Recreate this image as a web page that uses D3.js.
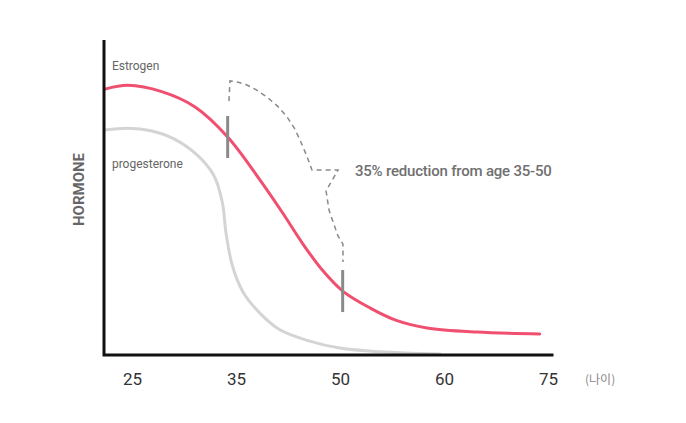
<!DOCTYPE html>
<html>
<head>
<meta charset="utf-8">
<script src="https://cdn.jsdelivr.net/npm/d3@7"></script>
<style>
  html, body { margin: 0; padding: 0; background: #fff; }
  svg { display: block; font-family: Roboto, "Noto Sans", sans-serif; }
</style>
</head>
<body>
<svg id="chart" width="686" height="423"></svg>
<script>
// ---- data ----
const tickLabels = ["25", "35", "50", "60", "75"];
const axisUnit = "(나이)";
const yTitle = "HORMONE";

const estrogenAge   = [19, 22.0, 26.4, 30.7, 35.0, 39.2, 42.2, 44.8, 47.4, 50.0, 53.6, 57.0, 61.0, 67.5, 75.7];
const estrogenValue = [84.4, 85.6, 83.6, 78.8, 69.2, 55.6, 45.0, 35.3, 26.8, 20.3, 14.9, 11.0, 8.6, 7.3, 6.7];

const progAge   = [19, 22.0, 25.0, 28.0, 31.0, 33.2, 34.3, 34.8, 35.6, 37.0, 39.2, 41.8, 45.7, 49.6, 54.9, 62.7];
const progValue = [71.4, 72.0, 71.2, 68.6, 63.5, 57.0, 48.5, 38.5, 28.5, 20.0, 13.3, 8.0, 4.4, 2.2, 1.0, 0.3];

const markerAges = [35, 50];

const bracketAge   = [35.17, 35.30, 36.4, 37.52, 38.8, 40.13, 41.5, 42.74, 43.7, 44.43, 45.35, 46.0, 49.39, 47.83, 48.22, 49.39, 50.04, 50.04];
const bracketValue = [80.6, 87.0, 86.6, 85.7, 84.1, 81.9, 79.0, 75.6, 72.0, 68.3, 63.0, 58.7, 58.7, 52.1, 46.0, 37.8, 35.2, 29.5];

const seriesNames = ["Estrogen", "progesterone"];
const annotationText = "35% reduction from age 35-50";

// ---- layout ----
const svg = d3.select("#chart");
const x = d3.scaleLinear().domain([19, 77.5]).range([105, 553.5]);
const y = d3.scaleLinear().domain([0, 100]).range([355, 40]);
const xTicks = d3.scalePoint().domain(tickLabels).range([132, 548]);

const line = d3.line().x(d => x(d[0])).y(d => y(d[1])).curve(d3.curveCatmullRom.alpha(0.5));
const estrogen = d3.zip(estrogenAge, estrogenValue);
const prog = d3.zip(progAge, progValue);

// progesterone
svg.append("path").datum(prog).attr("d", line)
  .attr("fill", "none").attr("stroke", "#d4d4d4").attr("stroke-width", 3).attr("stroke-linecap", "round");

// estrogen
svg.append("path").datum(estrogen).attr("d", line)
  .attr("fill", "none").attr("stroke", "#f04f6f").attr("stroke-width", 3).attr("stroke-linecap", "round");

// axes lines
svg.append("path")
  .attr("d", `M${x(19) - 1},${y(100)} V${y(0)} H${x(77.5)}`)
  .attr("fill", "none").attr("stroke", "#111").attr("stroke-width", 3).attr("stroke-linejoin", "miter");

// markers
const interp = a => {
  const i = d3.bisectLeft(estrogenAge, a);
  if (estrogenAge[i] === a) return estrogenValue[i];
  const t = (a - estrogenAge[i - 1]) / (estrogenAge[i] - estrogenAge[i - 1]);
  return estrogenValue[i - 1] + t * (estrogenValue[i] - estrogenValue[i - 1]);
};
svg.selectAll(".marker").data(markerAges).join("line")
  .attr("x1", d => x(d)).attr("x2", d => x(d))
  .attr("y1", d => y(interp(d)) - 21).attr("y2", d => y(interp(d)) + 21)
  .attr("stroke", "#8a8a8a").attr("stroke-width", 3);

// bracket annotation
svg.append("path").datum(d3.zip(bracketAge, bracketValue))
  .attr("d", d3.line().x(d => x(d[0])).y(d => y(d[1])))
  .attr("fill", "none").attr("stroke", "#8a8a8a").attr("stroke-width", 1.5)
  .attr("stroke-dasharray", "5,4");

svg.append("text").attr("x", x(51.6)).attr("y", y(56.8))
  .attr("font-size", 15).attr("font-weight", 500).attr("fill", "#707070")
  .attr("letter-spacing", -0.2)
  .text(annotationText);

// series labels
svg.append("text").attr("x", x(19.9)).attr("y", y(90.5))
  .attr("font-size", 12).attr("fill", "#666").text(seriesNames[0]);
svg.append("text").attr("x", x(19.9)).attr("y", y(59.4))
  .attr("font-size", 12).attr("fill", "#666").text(seriesNames[1]);

// x tick labels
const xAxis = svg.append("g").attr("transform", `translate(0,${y(0)})`)
  .call(d3.axisBottom(xTicks).tickSize(0).tickPadding(18));
xAxis.select(".domain").remove();
xAxis.selectAll("text").attr("font-size", 17).attr("fill", "#333")
  .attr("font-family", "Roboto, 'Noto Sans', sans-serif");

svg.append("text").attr("x", 585).attr("y", 384)
  .attr("font-size", 12).attr("fill", "#888")
  .attr("font-family", "'Noto Sans CJK KR', sans-serif")
  .text(axisUnit);

// y title
svg.append("text")
  .attr("transform", `translate(84,${(y(100) + y(0)) / 2 - 8}) rotate(-90)`)
  .attr("text-anchor", "middle")
  .attr("font-size", 15).attr("font-weight", 700).attr("fill", "#666")
  .text(yTitle);
</script>
</body>
</html>
